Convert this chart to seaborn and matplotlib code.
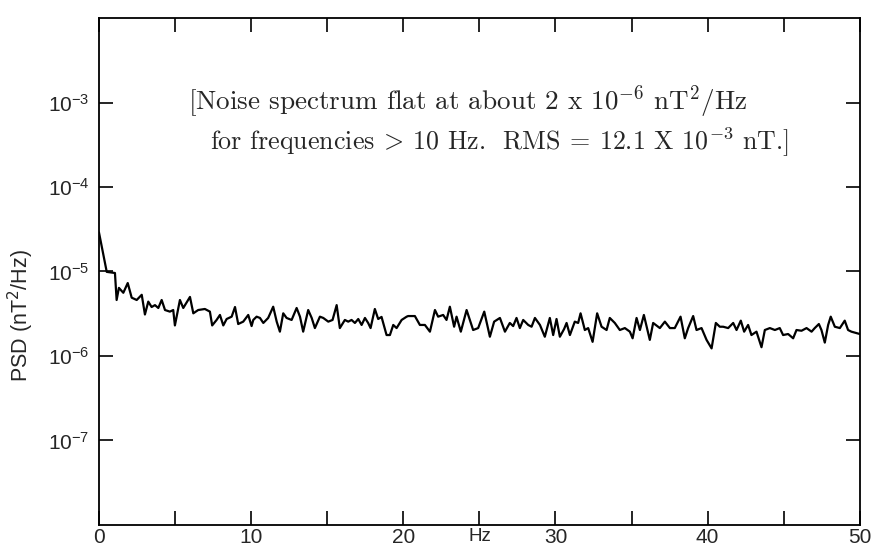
import matplotlib
matplotlib.use("Agg")
import matplotlib.pyplot as plt
import matplotlib.ticker as mticker
import numpy as np
import pandas as pd
import seaborn as sns

# Values (frequency in Hz, PSD in units of 1e-6 nT^2/Hz)
freq_hz = [0.00, 0.51, 1.05, 1.16, 1.31, 1.60, 1.89, 2.15, 2.48, 2.81, 3.02, 3.24, 3.46, 3.68,
           3.90, 4.12, 4.34, 4.66, 4.88, 4.99, 5.32, 5.54, 5.98, 6.20, 6.52, 6.96, 7.29, 7.44,
           7.73, 7.95, 8.17, 8.39, 8.72, 8.94, 9.15, 9.48, 9.81, 10.03, 10.14, 10.36, 10.58,
           10.80, 11.12, 11.45, 11.68, 11.89, 12.11, 12.33, 12.66, 12.99, 13.21, 13.42, 13.75,
           13.98, 14.19, 14.52, 14.74, 15.07, 15.35, 15.62, 15.83, 16.16, 16.38, 16.60, 16.82,
           17.04, 17.26, 17.48, 17.69, 17.85, 18.13, 18.35, 18.57, 18.90, 19.12, 19.34, 19.56,
           19.89, 20.22, 20.32, 20.76, 21.09, 21.42, 21.75, 22.08, 22.29, 22.62, 22.84, 23.06,
           23.34, 23.50, 23.78, 24.16, 24.59, 24.92, 25.32, 25.69, 25.97, 26.35, 26.68, 27.00,
           27.22, 27.44, 27.66, 27.88, 28.21, 28.43, 28.65, 28.98, 29.30, 29.63, 29.85, 30.07,
           30.29, 30.57, 30.73, 30.95, 31.27, 31.49, 31.65, 31.93, 32.15, 32.44, 32.74, 33.03,
           33.36, 33.57, 33.90, 34.23, 34.56, 34.89, 35.07, 35.33, 35.55, 35.81, 36.20, 36.42,
           36.86, 37.19, 37.52, 37.84, 38.22, 38.50, 38.72, 39.05, 39.27, 39.60, 39.93, 40.26,
           40.54, 40.80, 41.02, 41.35, 41.68, 41.90, 42.18, 42.40, 42.66, 42.88, 43.21, 43.54,
           43.76, 44.09, 44.42, 44.74, 44.96, 45.29, 45.62, 45.84, 46.17, 46.50, 46.83, 47.04,
           47.31, 47.48, 47.70, 47.92, 48.09, 48.36, 48.69, 49.01, 49.23, 49.45, 50.00]
psd_e6 = [29.0, 9.9, 9.6, 4.6, 6.4, 5.6, 7.3, 4.9, 4.6, 5.3, 3.1, 4.4, 3.8, 4.0,
          3.7, 4.6, 3.5, 3.35, 3.5, 2.3, 4.6, 3.7, 5.0, 3.2, 3.5, 3.6, 3.35, 2.3,
          2.67, 3.06, 2.3, 2.74, 2.92, 3.8, 2.39, 2.55, 3.06, 2.26, 2.67, 2.92, 2.82,
          2.46, 2.82, 3.83, 2.55, 1.94, 3.2, 2.82, 2.67, 3.7, 2.92, 1.94, 3.5,
          2.82, 2.14, 2.92, 2.82, 2.55, 2.67, 4.0, 2.14, 2.67, 2.55, 2.67, 2.46,
          2.74, 2.33, 2.82, 2.46, 2.14, 3.6, 2.74, 2.9, 1.77, 1.77, 2.33, 2.14,
          2.67, 2.92, 2.97, 2.97, 2.33, 2.33, 1.94, 3.5, 2.92, 3.06, 2.67, 3.83,
          2.22, 2.92, 1.94, 3.5, 2.03, 2.14, 3.35, 1.69, 2.55, 2.82, 1.94, 2.46,
          2.26, 2.82, 2.14, 2.67, 2.33, 2.22, 2.82, 2.33, 1.69, 2.82, 1.77, 2.74,
          1.69, 2.09, 2.46, 1.77, 2.55, 2.46, 3.2, 2.03, 2.14, 1.47, 3.2, 2.22,
          2.03, 2.82, 2.46, 2.03, 2.14, 1.94, 1.62, 2.82, 2.03, 3.06, 1.55, 2.46,
          2.14, 2.55, 2.14, 2.14, 2.92, 1.62, 2.14, 2.97, 2.03, 2.14, 1.55, 1.23,
          2.46, 2.22, 2.22, 2.14, 2.46, 2.03, 2.62, 1.94, 2.33, 1.77, 1.94, 1.27,
          2.03, 2.14, 2.03, 2.14, 1.77, 1.82, 1.62, 2.03, 1.99, 2.14, 1.94, 2.14,
          2.39, 2.03, 1.44, 2.33, 2.92, 2.22, 2.14, 2.62, 2.03, 1.94, 1.82]

y_ticks = [1e-7, 1e-6, 1e-5, 1e-4, 1e-3]
y_tick_labels = [r"$\mathdefault{10^{-7}}$", r"$\mathdefault{10^{-6}}$", r"$\mathdefault{10^{-5}}$",
                 r"$\mathdefault{10^{-4}}$", r"$\mathdefault{10^{-3}}$"]
x_ticks = [0, 10, 20, 30, 40, 50]

df = pd.DataFrame({"Hz": freq_hz, "PSD": np.array(psd_e6) * 1e-6})

sns.set_style("ticks")
plt.rcParams["font.family"] = ["Liberation Sans", "DejaVu Sans"]

fig = plt.figure(figsize=(8.72, 5.46), dpi=100)
ax = fig.add_axes([0.1135, 0.0385, 0.8725, 0.9285])

sns.lineplot(data=df, x="Hz", y="PSD", ax=ax, color="black", linewidth=1.6, sort=False)

ax.set_yscale("log")
ax.set_xlim(0, 50)
ax.set_ylim(1e-8, 1e-2)

ax.yaxis.set_major_locator(mticker.FixedLocator(y_ticks))
ax.yaxis.set_major_formatter(mticker.FixedFormatter(y_tick_labels))
ax.yaxis.set_minor_locator(mticker.NullLocator())
ax.xaxis.set_major_locator(mticker.FixedLocator(x_ticks))
ax.xaxis.set_minor_locator(mticker.MultipleLocator(5))

ax.tick_params(axis="both", which="both", direction="in", top=True, right=True,
               length=10, width=1.2, color="black", labelsize=15)
ax.tick_params(axis="x", pad=2)
ax.tick_params(axis="y", pad=7)
for s in ax.spines.values():
    s.set_linewidth(1.3)
    s.set_color("black")

ax.set_xlabel("Hz", fontsize=13.5, va="bottom")
ax.xaxis.set_label_coords(0.5, -0.04)
ax.set_ylabel(r"PSD (nT$^2$/Hz)", fontsize=15.5)
ax.yaxis.set_label_coords(-0.083, 0.414)

ax.text(0.117, 0.835, r"[Noise spectrum flat at about 2 x $10^{-6}$ nT$^2$/Hz",
        transform=ax.transAxes, fontsize=19.5, family="cmr10", math_fontfamily="cm",
        va="center", ha="left")
ax.text(0.146, 0.755, r"for frequencies $\!>\!$ 10 Hz.  RMS $\!=\!$ 12.1 X $10^{-3}$ nT.]",
        transform=ax.transAxes, fontsize=18.7, family="cmr10", math_fontfamily="cm",
        va="center", ha="left")

fig.savefig("out.png", dpi=100)
